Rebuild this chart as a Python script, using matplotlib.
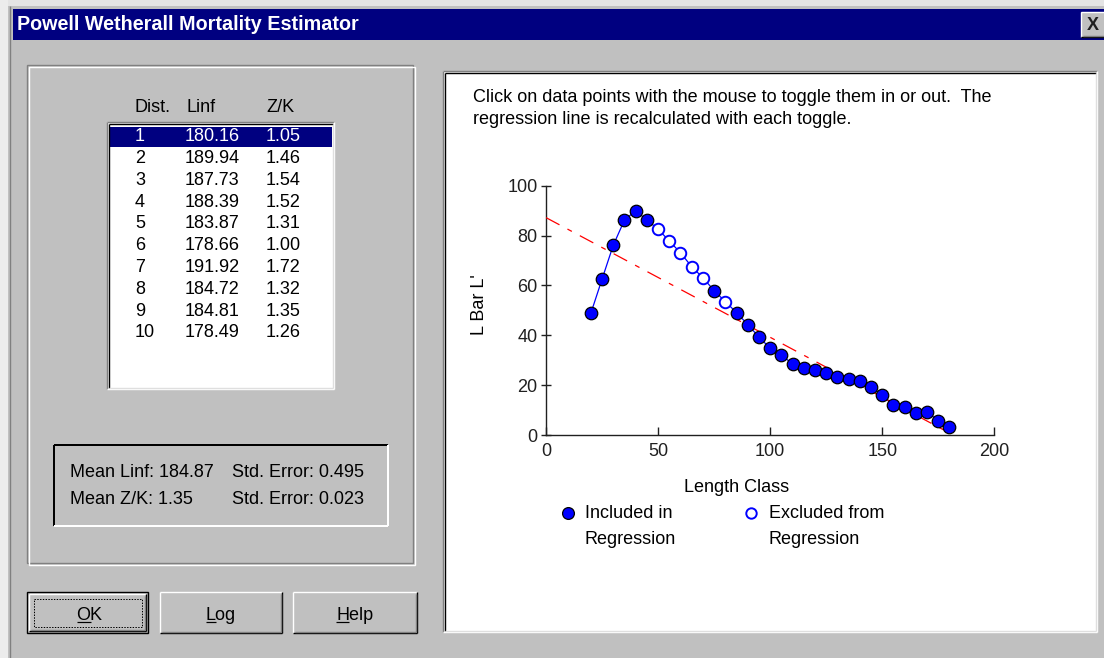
import numpy as np
import matplotlib
matplotlib.use("Agg")
import matplotlib.pyplot as plt
from matplotlib.patches import Rectangle

plt.rcParams['font.family'] = ['Liberation Sans', 'DejaVu Sans']
plt.rcParams['lines.scale_dashes'] = False

length_class = [20, 25, 30, 35, 40, 45, 50, 55, 60, 65, 70, 75, 80, 85, 90, 95, 100,
                105, 110, 115, 120, 125, 130, 135, 140, 145, 150, 155, 160, 165, 170, 175, 180]
lbar = [48.8, 62.5, 76.1, 86.2, 90.0, 86.2, 82.6, 77.8, 73.1, 67.5, 63.1, 57.9, 53.5,
        49.1, 44.3, 39.3, 34.8, 32.1, 28.5, 26.8, 26.1, 24.7, 23.1, 22.3, 21.8, 19.4,
        16.0, 12.0, 11.1, 8.7, 9.3, 5.7, 3.1]
excluded = [50, 55, 60, 65, 70, 80]
reg_x = [0, 180]
reg_y = [87.2, 0.8]

dist = [1, 2, 3, 4, 5, 6, 7, 8, 9, 10]
linf = ['180.16', '189.94', '187.73', '188.39', '183.87', '178.66', '191.92', '184.72', '184.81', '178.49']
zk = ['1.05', '1.46', '1.54', '1.52', '1.31', '1.00', '1.72', '1.32', '1.35', '1.26']
stats = [('Mean Linf: 184.87', 'Std. Error: 0.495'), ('Mean Z/K: 1.35', 'Std. Error: 0.023')]
buttons = ['OK', 'Log', 'Help']

W, H = 1104, 658
GRAY = '#c0c0c0'
DARK = '#808080'
NAVY = '#000080'

fig = plt.figure(figsize=(W / 100, H / 100), dpi=100, facecolor=GRAY)
bg = fig.add_axes([0, 0, 1, 1])
bg.set_xlim(0, W)
bg.set_ylim(H, 0)
bg.axis('off')


def line(x0, y0, x1, y1, c, w=1.4):
    bg.plot([x0, x1], [y0, y1], color=c, lw=w * 0.72, solid_capstyle='butt')


def sunken(x0, y0, x1, y1):
    line(x0, y0, x1, y0, DARK); line(x0, y0, x0, y1, DARK)
    line(x0 + 1.5, y0 + 1.5, x1 - 1.5, y0 + 1.5, 'black'); line(x0 + 1.5, y0 + 1.5, x0 + 1.5, y1 - 1.5, 'black')
    line(x0, y1, x1, y1, 'white'); line(x1, y0, x1, y1, 'white')
    line(x0 + 1.5, y1 - 1.5, x1 - 1.5, y1 - 1.5, '#dfdfdf'); line(x1 - 1.5, y0 + 1.5, x1 - 1.5, y1 - 1.5, '#dfdfdf')


def raised(x0, y0, x1, y1):
    line(x0, y0, x1, y0, 'white'); line(x0, y0, x0, y1, 'white')
    line(x0, y1, x1, y1, 'black'); line(x1, y0, x1, y1, 'black')
    line(x0 + 1.5, y1 - 1.5, x1 - 1.5, y1 - 1.5, DARK); line(x1 - 1.5, y0 + 1.5, x1 - 1.5, y1 - 1.5, DARK)


def etched(x0, y0, x1, y1):
    bg.add_patch(Rectangle((x0, y0), x1 - x0, y1 - y0, fill=False, ec=DARK, lw=1.4 * 0.72))
    bg.add_patch(Rectangle((x0 + 2, y0 + 2), x1 - x0, y1 - y0, fill=False, ec='white', lw=1.4 * 0.72))


# window frame + title bar
bg.add_patch(Rectangle((0, 0), W, 6, color='#e4e4e4', lw=0))
bg.add_patch(Rectangle((0, 0), 8, H, color='#ececec', lw=0))
line(10, 6, 10, H, DARK)
bg.add_patch(Rectangle((13, 9), W - 13, 31, color=NAVY, lw=0))
bg.text(17, 25, 'Powell Wetherall Mortality Estimator', color='white', fontsize=14.2,
        fontweight='bold', va='center', ha='left')
bg.add_patch(Rectangle((1081, 12), 30, 25, color=GRAY, lw=0))
raised(1081, 12, 1110, 37)
bg.text(1093, 25, 'X', fontsize=13, fontweight='bold', ha='center', va='center', color='#202020')

# left group box
etched(27, 65, 413, 563)
fs = 13
bg.text(135, 107, 'Dist.', fontsize=fs, va='center')
bg.text(187, 107, 'Linf', fontsize=fs, va='center')
bg.text(266, 107, 'Z/K', fontsize=fs, va='center')
bg.add_patch(Rectangle((107, 122), 227, 267, color='white', lw=0))
sunken(107, 122, 334, 389)
bg.add_patch(Rectangle((110, 126.5), 221.5, 20.5, color=NAVY, lw=0))
for i, (d, l, z) in enumerate(zip(dist, linf, zk)):
    y = 136.7 + 21.8 * i
    c = 'white' if i == 0 else 'black'
    bg.text(135, y, str(d), fontsize=fs, color=c, va='center')
    bg.text(185, y, l, fontsize=fs, color=c, va='center')
    bg.text(266, y, z, fontsize=fs, color=c, va='center')

# stats box
line(54, 445, 388, 445, 'black', 2); line(54, 445, 54, 526, 'black', 2)
line(54, 526, 388, 526, 'white', 2); line(388, 445, 388, 526, 'white', 2)
for j, (a, b) in enumerate(stats):
    y = 472.3 + 27 * j
    bg.text(70.5, y, a, fontsize=fs, va='center')
    bg.text(231.5, y, b, fontsize=fs, va='center')

# buttons
btn_x = [(27, 148), (160, 282), (293, 417)]
fig.canvas.draw()
rend = fig.canvas.get_renderer()
for k, (name, (x0, x1)) in enumerate(zip(buttons, btn_x)):
    if k == 0:
        bg.add_patch(Rectangle((x0, 592), x1 - x0, 41, fill=False, ec='black', lw=1.4 * 0.72))
        raised(x0 + 2, 594, x1 - 2, 631)
        bg.add_patch(Rectangle((33.5, 598.5), 108, 28, fill=False, ec='black',
                               lw=0.72, ls=(0, (1, 1))))
    else:
        raised(x0, 592, x1, 633)
    xc = (x0 + x1) / 2 + (2 if k == 0 else 0)
    t = bg.text(xc, 619.5, name, fontsize=fs, ha='center', va='baseline')
    f = bg.text(0, 0, name[0], fontsize=fs, alpha=0)
    bb = t.get_window_extent(rend)
    fb = f.get_window_extent(rend)
    xl = bb.x0 * W / fig.bbox.width
    line(xl, 622, xl + fb.width * W / fig.bbox.width, 622, 'black', 1.2)

# right panel
bg.add_patch(Rectangle((443, 71), 654, 561, color='white', lw=0))
sunken(443, 71, 1097, 632)
bg.text(473, 98, 'Click on data points with the mouse to toggle them in or out.  The',
        fontsize=fs, va='center')
bg.text(473, 119, 'regression line is recalculated with each toggle.', fontsize=fs, va='center')
bg.text(736.7, 488, 'Length Class', fontsize=fs, ha='center', va='center')
bg.text(479.3, 305, "L Bar L'", fontsize=fs, ha='center', va='center', rotation=90)

# legend
bg.plot([568.3], [513.3], 'o', ms=8.5, mfc='blue', mec='black', mew=0.9)
bg.text(585, 514, 'Included in', fontsize=fs, va='center')
bg.text(585, 540, 'Regression', fontsize=fs, va='center')
bg.plot([750.7], [513.3], 'o', ms=7.5, mfc='white', mec='blue', mew=1.4)
bg.text(769, 514, 'Excluded from', fontsize=fs, va='center')
bg.text(769, 540, 'Regression', fontsize=fs, va='center')

# plot
ax = fig.add_axes([546 / W, 1 - 435 / H, (994.3 - 546) / W, (435 - 185.7) / H])
ax.patch.set_alpha(0)
ax.set_xlim(0, 200)
ax.set_ylim(0, 100)
ax.set_xticks([0, 50, 100, 150, 200])
ax.set_yticks([0, 20, 40, 60, 80, 100])
for s in ['top', 'right']:
    ax.spines[s].set_visible(False)
for s in ['left', 'bottom']:
    ax.spines[s].set_color('#202020')
    ax.spines[s].set_linewidth(1.0)
ax.tick_params(axis='y', direction='inout', length=6.5, width=1.0, pad=2.8,
               labelsize=fs, colors='#202020')
ax.tick_params(axis='x', direction='in', length=5.8, width=1.0, pad=5.4,
               labelsize=fs, colors='#202020')

x = np.array(length_class)
y = np.array(lbar)
inc = ~np.isin(x, excluded)
ax.plot(x, y, color='blue', lw=0.9, zorder=2)
ax.plot(reg_x, reg_y, color='red', lw=0.9, ls=(0, (11, 6.5, 3.6, 6.5)), zorder=3)
ax.plot(x[inc], y[inc], 'o', ms=9, mfc='blue', mec='black', mew=0.9, zorder=4, clip_on=False)
ax.plot(x[~inc], y[~inc], 'o', ms=8.3, mfc='white', mec='blue', mew=1.4, zorder=4, clip_on=False)

fig.savefig('out.png', dpi=100, facecolor=GRAY)
